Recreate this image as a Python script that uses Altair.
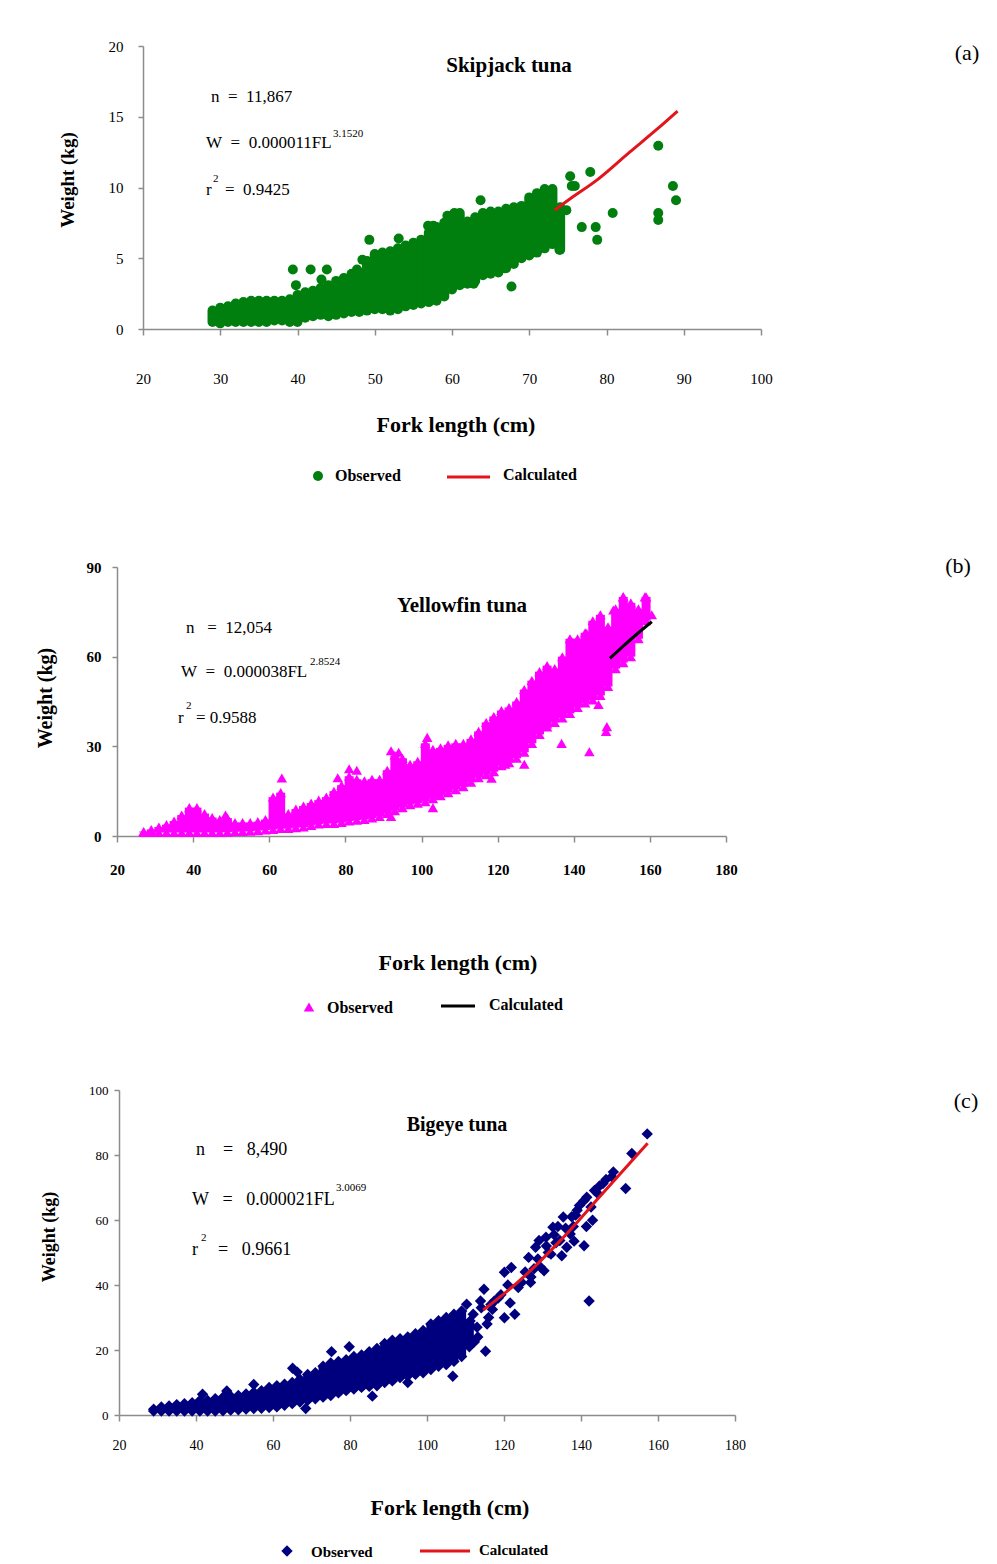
import altair as alt
import pandas as pd

FONT = "Liberation Serif"
W_TOTAL, H_TOTAL = 981, 1548

GREEN = "#007f0e"
MAGENTA = "#ff00ff"
NAVY = "#00007f"
RED = "#e3141c"
AXIS_GREY = "#8c8c8c"

# ---------------- (a) Skipjack tuna ----------------
SKJ_FL = list(range(29, 75))
SKJ_LO = [0.5, 0.4, 0.5, 0.5, 0.5, 0.5, 0.5, 0.5, 0.6, 0.6,
          0.5, 0.5, 0.8, 0.9, 1.0, 0.9, 1.0, 1.1, 1.2, 1.2,
          1.3, 1.4, 1.4, 1.3, 1.4, 1.6, 1.7, 1.8, 1.9, 2.0,
          2.3, 2.8, 3.1, 3.2, 3.4, 3.8, 3.9, 4.0, 4.3, 4.6,
          5.0, 5.2, 5.4, 5.7, 6.0, 5.6]
SKJ_HI = [1.3, 1.5, 1.6, 1.8, 1.9, 2.0, 2.0, 2.0, 2.0, 2.0,
          2.1, 2.4, 2.6, 2.7, 2.9, 3.1, 3.4, 3.6, 3.9, 4.0,
          4.8, 5.3, 5.4, 5.5, 5.7, 5.9, 6.1, 6.3, 6.8, 7.2,
          7.5, 8.0, 8.0, 7.6, 7.9, 8.2, 8.3, 8.3, 8.5, 8.6,
          8.7, 9.3, 9.6, 9.9, 9.9, 8.6]
SKJ_OUT_FL = [39.4, 39.8, 41.7, 43.8, 43.1, 47.7, 48.4, 49.3, 53.1, 56.9,
              57.6, 59.4, 60.3, 61.0, 63.7, 67.7, 66.8, 62.8, 74.8, 73.9,
              75.3, 75.5, 75.9, 77.9, 76.8, 78.6, 78.8, 80.8, 86.7, 86.7,
              86.7, 88.6, 89.0]
SKJ_OUT_W = [4.2, 3.1, 4.2, 4.2, 3.5, 4.2, 4.9, 6.3, 6.4, 7.3,
             7.3, 8.0, 8.2, 8.2, 9.1, 3.0, 4.3, 3.2, 8.4, 5.6,
             10.8, 10.1, 10.1, 11.1, 7.2, 7.2, 6.3, 8.2, 12.95, 8.2,
             7.7, 10.1, 9.1]
SKJ_CALC_FL = [73.3, 75.3, 78.7, 83.0, 86.5, 89.2]
SKJ_CALC_W = [8.4, 9.2, 10.5, 12.5, 14.1, 15.4]

# ---------------- (b) Yellowfin tuna ----------------
YFT_FL = list(range(27, 161, 2))
YFT_LO = [1.2, 1.2, 1.2, 1.2, 1.2, 1.2, 1.2, 1.2, 1.2, 1.2,
          1.2, 1.3, 1.4, 1.5, 1.6, 1.8, 2.0, 2.2, 2.5, 2.5,
          2.8, 3.0, 3.5, 4.0, 4.2, 4.2, 4.5, 5.0, 5.3, 5.5,
          6.0, 6.5, 7.5, 8.5, 9.5, 10.5, 11.0, 11.5, 12.5, 13.5,
          14.5, 15.5, 16.5, 18.0, 19.5, 20.5, 21.5, 23.5, 24.5, 26.0,
          28.0, 31.0, 34.0, 36.5, 38.0, 39.5, 41.0, 43.0, 44.5, 45.5,
          47.0, 50.0, 56.0, 58.0, 60.0, 66.0, 72.0]
YFT_HI = [1.5, 2.2, 3.0, 3.8, 5.0, 7.0, 9.5, 9.5, 7.5, 6.2,
          5.5, 6.0, 4.5, 4.5, 4.5, 4.8, 5.5, 13.0, 14.5, 7.5,
          9.0, 10.0, 11.0, 12.0, 13.0, 15.0, 17.0, 20.0, 19.0, 18.5,
          19.0, 19.0, 22.0, 27.0, 26.0, 24.0, 25.0, 31.0, 29.0, 29.5,
          30.5, 31.0, 31.0, 32.5, 35.0, 38.0, 40.0, 42.0, 43.0, 45.0,
          49.0, 52.0, 55.0, 57.0, 56.0, 60.0, 66.0, 66.0, 68.0, 72.0,
          74.0, 70.0, 76.0, 80.0, 78.0, 76.0, 80.0]
YFT_OUT_FL = [48.5, 63.3, 78.0, 81.0, 83.0, 92.0, 94.0, 92.0, 103.0, 104.5,
              101.5, 118.4, 122.0, 127.0, 133.0, 136.8, 144.1, 146.5, 148.7, 148.5,
              150.4, 153.0, 158.7, 160.5, 156.5, 139.5, 143.4]
YFT_OUT_W = [7.0, 19.4, 19.5, 22.5, 22.0, 28.5, 28.0, 6.5, 9.5, 14.0,
             33.0, 19.3, 24.0, 24.0, 37.5, 31.0, 28.2, 44.0, 36.6, 35.0,
             75.6, 80.0, 80.0, 74.0, 75.0, 65.0, 67.8]
YFT_CALC_FL = [149.5, 153.0, 157.0, 160.5]
YFT_CALC_W = [59.4, 63.5, 68.0, 71.7]

# ---------------- (c) Bigeye tuna ----------------
BET_FL = list(range(29, 113, 2))
BET_LO = [1.2, 1.2, 1.2, 1.2, 1.2, 1.2, 1.2, 1.2, 1.2, 1.3,
          1.5, 1.6, 1.8, 2.0, 2.1, 2.3, 2.5, 3.0, 3.5, 4.0,
          4.5, 5.0, 5.5, 6.0, 6.8, 7.5, 8.0, 8.5, 8.8, 9.0,
          10.0, 10.5, 11.5, 12.0, 12.5, 13.0, 14.0, 15.0, 15.5, 16.5,
          18.0, 21.0]
BET_HI = [1.8, 2.5, 2.8, 3.2, 3.5, 3.8, 4.5, 4.5, 5.0, 5.5,
          5.8, 6.0, 6.5, 7.0, 7.5, 8.5, 9.0, 9.5, 10.0, 11.0,
          12.5, 13.0, 15.0, 16.0, 16.5, 17.0, 18.0, 18.5, 19.5, 20.5,
          22.0, 23.0, 23.5, 24.0, 25.0, 26.0, 28.0, 29.0, 30.0, 31.0,
          32.0, 28.0]
BET_OUT_FL = [41.7, 48.0, 55.0, 65.1, 66.3, 68.5, 75.2, 79.8, 85.8, 95.0,
              106.7, 110.3, 111.2, 112.0, 113.0, 113.9, 114.8, 115.2, 116.0, 117.0,
              117.5, 118.5, 120.1, 120.1, 121.0, 121.9, 122.8, 123.7, 124.6, 126.4,
              126.9, 127.8, 128.2, 129.1, 130.4, 130.9, 131.5, 132.2, 132.7, 133.5,
              134.5, 135.4, 136.3, 137.2, 138.0, 139.0, 140.8, 140.8, 142.1, 143.0,
              143.5, 144.4, 145.7, 148.0, 148.4, 151.6, 153.2, 157.2,
              109.0, 110.0, 112.3, 113.2, 114.1, 115.6, 116.6, 125.5, 127.0, 128.8,
              129.5, 131.0, 133.0, 134.0, 136.0, 137.6, 138.6, 139.6, 141.5, 142.6,
              144.8, 146.5, 141.4, 135.0, 138.2, 119.2, 121.6]
BET_OUT_W = [6.4, 7.4, 9.4, 14.4, 13.2, 2.0, 19.5, 21.0, 5.8, 10.0,
             11.9, 34.1, 28.9, 31.0, 27.0, 35.1, 38.7, 19.6, 30.0, 32.5,
             35.1, 36.0, 29.9, 43.9, 40.0, 45.4, 31.0, 39.2, 40.8, 48.5,
             40.8, 45.0, 51.6, 53.7, 44.4, 54.7, 50.0, 49.5, 57.8, 53.0,
             53.7, 60.9, 51.6, 55.7, 58.0, 63.0, 66.0, 52.1, 35.1, 59.9,
             69.1, 68.1, 71.2, 73.3, 74.8, 69.7, 80.5, 86.5,
             22.0, 25.0, 22.5, 24.0, 33.0, 28.0, 34.0, 44.0, 42.5, 48.0,
             45.5, 52.0, 55.5, 58.0, 57.5, 61.0, 61.5, 64.5, 67.0, 64.0,
             70.5, 72.5, 58.0, 49.0, 53.5, 37.0, 34.5]
BET_CALC_FL = [114.6, 124.2, 134.5, 144.9, 157.3]
BET_CALC_W = [32.3, 41.5, 53.5, 67.2, 83.6]

ONE = pd.DataFrame({"k": [0]})


def label(s, x, y, size=17, bold=False, align="left", angle=0, color="black"):
    return alt.Chart(ONE).mark_text(
        text=s, font=FONT, fontSize=size, fontWeight="bold" if bold else "normal",
        align=align, baseline="middle", angle=angle, color=color,
    ).encode(x=alt.value(x), y=alt.value(y))


def legend_symbol(shape, color, x, y, size):
    return alt.Chart(ONE).mark_point(shape=shape, filled=True, size=size, opacity=1,
                                     color=color).encode(x=alt.value(x), y=alt.value(y))


def legend_line(color, x1, x2, y):
    return alt.Chart(ONE).mark_rule(color=color, strokeWidth=3).encode(
        x=alt.value(x1), x2=alt.value(x2), y=alt.value(y))


def make_axes(x_axis_y, y_axis_x, xvals, yvals, xpad, ypad, xsize, ysize, weight, xtick):
    common = dict(title=None, grid=False, domainColor=AXIS_GREY, tickColor=AXIS_GREY,
                  domainWidth=1.5, tickWidth=1.5, labelFont=FONT, labelColor="black",
                  labelFontWeight=weight, labelFlush=False, labelOverlap=False)
    ax = alt.Axis(orient="bottom", offset=x_axis_y - H_TOTAL, values=xvals, tickSize=xtick,
                  labelPadding=xpad, labelFontSize=xsize, **common)
    ay = alt.Axis(orient="left", offset=-y_axis_x, values=yvals, tickSize=5,
                  labelPadding=ypad, labelFontSize=ysize, **common)
    return ax, ay


def panel(fl, lo, hi, ofl, ow, cfl, cw, color, shape, msize, band_w, round_caps,
          xs, ys, ax, ay, calc_color, extras):
    band_df = pd.DataFrame({"FL": fl, "lo": lo, "hi": hi})
    out_df = pd.DataFrame({"FL": ofl, "W": ow})
    calc_df = pd.DataFrame({"FL": cfl, "W": cw})
    X = alt.X("FL:Q", scale=xs, axis=ax)
    layers = []
    band = alt.Chart(band_df).mark_rule(
        color=color, strokeWidth=band_w, strokeCap="round" if round_caps else "butt"
    ).encode(x=X, y=alt.Y("lo:Q", scale=ys, axis=ay), y2="hi:Q")
    layers.append(band)
    if not round_caps:
        ends = alt.Chart(band_df).transform_fold(["lo", "hi"], as_=["end", "W"]).mark_point(
            shape=shape, filled=True, size=msize, opacity=1, color=color
        ).encode(x=X, y=alt.Y("W:Q", scale=ys, axis=ay))
        layers.append(ends)
    outl = alt.Chart(out_df).mark_point(
        shape=shape, filled=True, size=msize, opacity=1, color=color
    ).encode(x=X, y=alt.Y("W:Q", scale=ys, axis=ay))
    layers.append(outl)
    calc = alt.Chart(calc_df).mark_line(color=calc_color, strokeWidth=3,
                                        interpolate="monotone").encode(
        x=X, y=alt.Y("W:Q", scale=ys, axis=ay))
    layers.append(calc)
    return alt.layer(*layers, *extras)


NB = "\u00a0"

# ----- panel (a) -----
xsA = alt.Scale(domain=[20, 100], range=[135, 753], nice=False, zero=False)
ysA = alt.Scale(domain=[0, 20], range=[321, 38], nice=False, zero=False)
axA, ayA = make_axes(321, 135, list(range(20, 101, 10)), [0, 5, 10, 15, 20],
                     36, 15, 15, 15, "normal", 6)
extrasA = [
    label("Skipjack tuna", 501, 58, 21, True, "center"),
    label(f"n{NB}{NB}={NB}{NB}11,867", 203, 89),
    label(f"W{NB}{NB}={NB}{NB}0.000011FL", 198, 135),
    label("3.1520", 325, 126, 11),
    label("r", 198, 182),
    label("2", 205, 171, 11),
    label(f"={NB}{NB}0.9425", 217, 182),
    label("Weight (kg)", 60, 172, 19, True, "center", 270),
    label("Fork length (cm)", 448, 417, 22, True, "center"),
    legend_symbol("circle", GREEN, 310, 468, 100),
    label("Observed", 327, 468, 16, True),
    legend_line(RED, 439, 482, 469),
    label("Calculated", 495, 467, 16, True),
    label("(a)", 959, 45, 22, False, "center"),
]
pA = panel(SKJ_FL, SKJ_LO, SKJ_HI, SKJ_OUT_FL, SKJ_OUT_W, SKJ_CALC_FL, SKJ_CALC_W,
           GREEN, "circle", 100, 10, True, xsA, ysA, axA, ayA, RED, extrasA)

# ----- panel (b) -----
xsB = alt.Scale(domain=[20, 180], range=[109, 718], nice=False, zero=False)
ysB = alt.Scale(domain=[0, 90], range=[828, 559], nice=False, zero=False)
axB, ayB = make_axes(828, 109, list(range(20, 181, 20)), [0, 30, 60, 90],
                     20, 11, 15, 15, "bold", 6)
extrasB = [
    label("Yellowfin tuna", 454, 598, 21, True, "center"),
    label(f"n{NB}{NB}{NB}={NB}{NB}12,054", 178, 620),
    label(f"W{NB}{NB}={NB}{NB}0.000038FL", 173, 664),
    label("2.8524", 302, 654, 11),
    label("r", 170, 710),
    label("2", 178, 698, 11),
    label(f"={NB}0.9588", 188, 710),
    label("Weight (kg)", 38, 690, 20, True, "center", 270),
    label("Fork length (cm)", 450, 955, 22, True, "center"),
    legend_symbol("triangle-up", MAGENTA, 301, 999, 110),
    label("Observed", 319, 1000, 16, True),
    legend_line("black", 433, 467, 998),
    label("Calculated", 481, 997, 16, True),
    label("(b)", 950, 558, 22, False, "center"),
]
pB = panel(YFT_FL, YFT_LO, YFT_HI, YFT_OUT_FL, YFT_OUT_W, YFT_CALC_FL, YFT_CALC_W,
           MAGENTA, "triangle-up", 110, 9, False, xsB, ysB, axB, ayB, "black", extrasB)

# ----- panel (c) -----
xsC = alt.Scale(domain=[20, 180], range=[111, 727], nice=False, zero=False)
ysC = alt.Scale(domain=[0, 100], range=[1407, 1082], nice=False, zero=False)
axC, ayC = make_axes(1407, 111, list(range(20, 181, 20)), [0, 20, 40, 60, 80, 100],
                     17, 6, 14, 13, "normal", 6)
extrasC = [
    label("Bigeye tuna", 449, 1117, 20, True, "center"),
    label(f"n{NB}{NB}{NB}{NB}={NB}{NB}{NB}8,490", 188, 1142, 18),
    label(f"W{NB}{NB}{NB}={NB}{NB}{NB}0.000021FL", 184, 1192, 18),
    label("3.0069", 328, 1180, 11),
    label("r", 184, 1242, 18),
    label("2", 193, 1230, 11),
    label(f"={NB}{NB}{NB}0.9661", 210, 1242, 18),
    label("Weight (kg)", 42, 1229, 18, True, "center", 270),
    label("Fork length (cm)", 442, 1500, 22, True, "center"),
    legend_symbol("diamond", NAVY, 279, 1543, 130),
    label("Observed", 303, 1544, 15, True),
    legend_line(RED, 412, 462, 1543),
    label("Calculated", 471, 1542, 15, True),
    label("(c)", 958, 1093, 22, False, "center"),
]
pC = panel(BET_FL, BET_LO, BET_HI, BET_OUT_FL, BET_OUT_W, BET_CALC_FL, BET_CALC_W,
           NAVY, "diamond", 130, 9, False, xsC, ysC, axC, ayC, RED, extrasC)

chart = alt.layer(pA, pB, pC).resolve_scale(
    x="independent", y="independent"
).resolve_axis(
    x="independent", y="independent"
).properties(
    width=W_TOTAL, height=H_TOTAL, padding=0, background="white"
).configure_view(stroke="transparent")

chart.save("out.html", embed_options={"renderer": "svg", "actions": False})
